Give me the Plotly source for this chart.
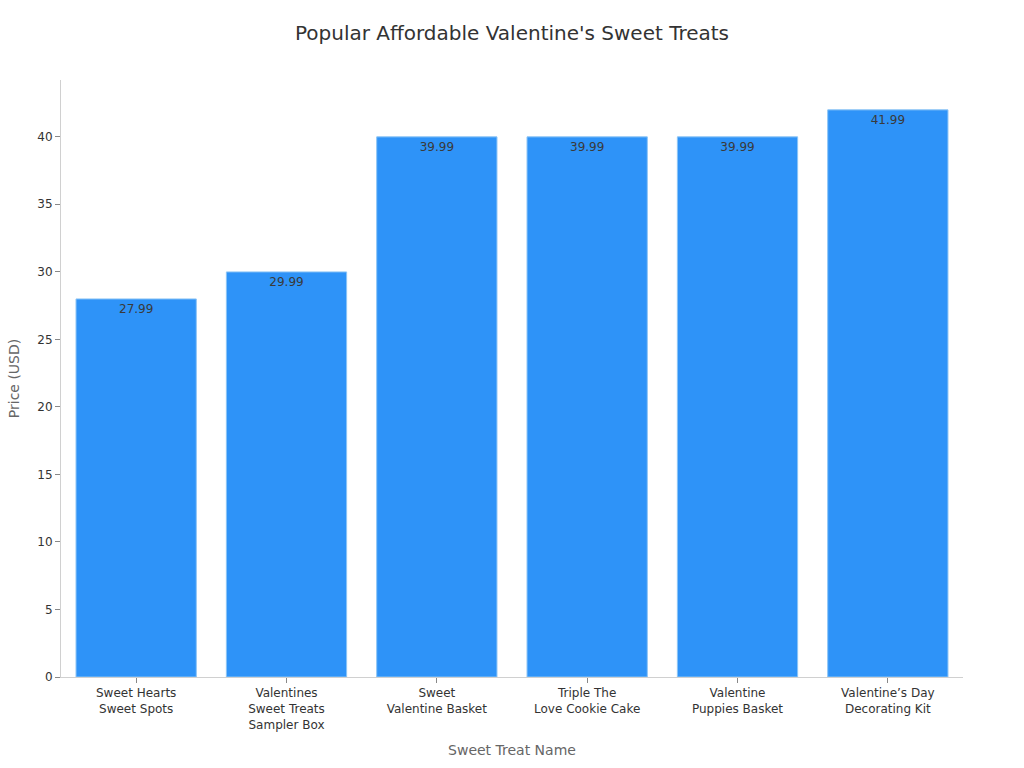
import plotly.graph_objects as go

categories = ["Sweet Hearts<br>Sweet Spots", "Valentines<br>Sweet Treats<br>Sampler Box",
              "Sweet<br>Valentine Basket", "Triple The<br>Love Cookie Cake",
              "Valentine<br>Puppies Basket", "Valentine’s Day<br>Decorating Kit"]
prices = [27.99, 29.99, 39.99, 39.99, 39.99, 41.99]
labels = ["27.99", "29.99", "39.99", "39.99", "39.99", "41.99"]

fig = go.Figure(go.Bar(
    x=categories, y=prices, text=labels, textposition="inside", insidetextanchor="end",
    textfont=dict(color="#3a3a3a", size=12, family="DejaVu Sans"),
    marker=dict(color="#2E93F8", line=dict(color="#8CC4F5", width=1)),
    hoverinfo="skip",
))

fig.update_layout(
    width=1024, height=768,
    margin=dict(l=61, r=61, t=80, b=91),
    paper_bgcolor="white", plot_bgcolor="white",
    font=dict(family="DejaVu Sans", color="#333333", size=12),
    title=dict(text="Popular Affordable Valentine's Sweet Treats", x=0.5, xanchor="center",
               y=0.957, yanchor="middle", font=dict(size=20, color="#333333")),
    bargap=0.2,
    showlegend=False,
    xaxis=dict(title=dict(text="Sweet Treat Name", font=dict(size=14, color="#666666"), standoff=14),
               showline=True, linecolor="#D0D0D0", linewidth=1, ticks="outside", ticklen=5,
               tickcolor="#888888", showgrid=False, tickfont=dict(size=12, color="#333333")),
    yaxis=dict(title=dict(text="Price (USD)", font=dict(size=14, color="#666666"), standoff=14),
               range=[0, 44.2], dtick=5, showline=True, linecolor="#D0D0D0", linewidth=1,
               ticks="outside", ticklen=5, tickcolor="#888888", showgrid=False, zeroline=False,
               tickfont=dict(size=12, color="#333333")),
)

fig.write_html("out.html")
